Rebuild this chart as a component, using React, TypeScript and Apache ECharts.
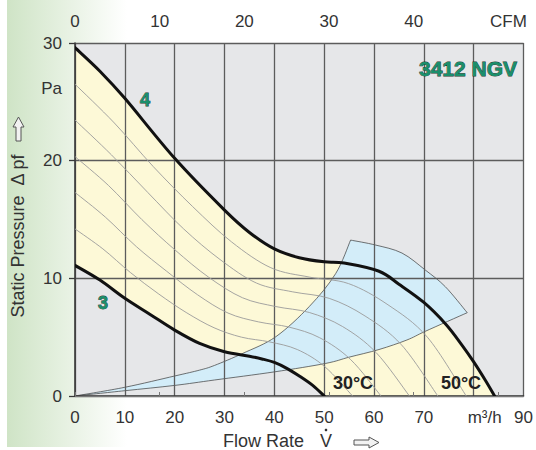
import React, { useEffect, useRef } from "react";
import * as echarts from "echarts";

// ---- axis ticks ----
const flowTicks = [0, 10, 20, 30, 40, 50, 60, 70, 80, 90];
const cfmTicks = [0, 10, 20, 30, 40, 50];
const pressureTicks = [0, 10, 20, 30];
const M3H_PER_CFM = 1.699;

// ---- characteristic curve "4" (upper) ----
const curve4Flow = [0, 5, 10, 20, 30, 35, 40, 45, 50, 54, 61, 65, 70, 74.4, 77.6, 80, 82.3, 84.2];
const curve4Pres = [29.6, 27.6, 25.3, 20.2, 15.8, 13.9, 12.5, 11.75, 11.4, 11.3, 10.6, 9.5, 7.95, 6.1, 4.35, 2.9, 1.36, 0];

// ---- characteristic curve "3" (lower) ----
const curve3Flow = [0, 5, 10, 15, 20, 25, 30, 35, 37.5, 40, 42.5, 45, 47.7, 50];
const curve3Pres = [11.1, 9.85, 8.3, 6.95, 5.6, 4.47, 3.76, 3.38, 3.15, 2.85, 2.35, 1.7, 0.9, 0];

// ---- intermediate thin curves ----
const thin1Flow = [0, 5.6, 11.1, 16.7, 22.3, 27.9, 33.4, 39, 44.6, 50.1, 55.7];
const thin1Pres = [14.2, 12.5, 10.5, 8.7, 7.1, 5.8, 5.0, 4.6, 3.95, 2.5, 0];
const thin2Flow = [0, 6.1, 12.3, 18.4, 24.6, 30.7, 36.8, 43, 49.1, 55.3, 61.4];
const thin2Pres = [17.3, 15.2, 12.7, 10.6, 8.6, 7.05, 6.3, 5.85, 4.95, 3.1, 0];
const thin3Flow = [0, 6.7, 13.4, 20.1, 26.8, 33.6, 40.3, 47, 53.7, 60.4, 67.1];
const thin3Pres = [20.35, 17.9, 15.0, 12.4, 10.1, 8.35, 7.6, 7.1, 5.9, 3.7, 0];
const thin4Flow = [0, 7.3, 14.6, 21.8, 29.1, 36.4, 43.7, 51, 58.2, 65.5, 72.8];
const thin4Pres = [23.45, 20.5, 17.3, 14.2, 11.6, 9.6, 8.85, 8.3, 6.8, 4.35, 0];
const thin5Flow = [0, 7.9, 15.7, 23.6, 31.4, 39.3, 47.1, 54.9, 62.8, 70.7, 78.5];
const thin5Pres = [26.5, 23.2, 19.5, 16.1, 13.1, 10.9, 10.1, 9.55, 7.75, 5.0, 0];

// ---- blue operating band ----
const bandUpperFlow = [0, 10, 20, 25, 28, 33.7, 40.3, 47, 52.3, 55.3];
const bandUpperPres = [0, 0.74, 1.7, 2.2, 2.6, 3.63, 5.04, 7.6, 10.4, 13.25];
const bandArcFlow = [55.3, 60.3, 65.6, 70.3, 74.3, 78.7];
const bandArcPres = [13.25, 12.83, 12.15, 10.7, 9.29, 7.08];
const bandLowerFlow = [0, 10, 20, 28, 40, 50.3, 55, 61, 66.6, 70.3, 78.7];
const bandLowerPres = [0, 0.45, 0.9, 1.36, 2.05, 2.77, 3.3, 3.95, 4.76, 5.5, 7.08];

const FONT = "'Liberation Sans', Arial, sans-serif";

// Catmull-Rom spline through pixel points, as cubic bezier commands (current point = pts[0])
function splineCmds(pts: number[][]): string {
  let d = "";
  for (let i = 0; i < pts.length - 1; i++) {
    const p0 = pts[i - 1] || pts[i];
    const p1 = pts[i];
    const p2 = pts[i + 1];
    const p3 = pts[i + 2] || p2;
    const c1x = p1[0] + (p2[0] - p0[0]) / 6;
    const c1y = p1[1] + (p2[1] - p0[1]) / 6;
    const c2x = p2[0] - (p3[0] - p1[0]) / 6;
    const c2y = p2[1] - (p3[1] - p1[1]) / 6;
    d += ` C${c1x},${c1y} ${c2x},${c2y} ${p2[0]},${p2[1]}`;
  }
  return d;
}

const toPx = (api: any, q: number[], p: number[]) => q.map((v, i) => api.coord([v, p[i]]));

function pathSeries(build: (api: any) => string, style: any, z: number) {
  return {
    type: "custom",
    silent: true,
    z,
    clip: true,
    data: [[0, 0]],
    encode: { x: 0, y: 1 },
    renderItem: (_params: any, api: any) => ({
      type: "path",
      shape: { pathData: build(api) },
      style,
    }),
  };
}

function curveSeries(q: number[], p: number[], color: string, width: number, z: number) {
  return pathSeries(
    (api) => {
      const pts = toPx(api, q, p);
      return `M${pts[0][0]},${pts[0][1]}` + splineCmds(pts);
    },
    { fill: "none", stroke: color, lineWidth: width, lineJoin: "round", lineCap: "round" },
    z
  );
}

export default function App() {
  const ref = useRef<HTMLDivElement>(null);

  useEffect(() => {
    if (!ref.current) return;
    const chart = echarts.init(ref.current, null, { renderer: "svg" });

    const labelText = { fontSize: 17, color: "#333", fontFamily: FONT };
    const greenLabel = {
      fontSize: 18,
      fontWeight: "bold",
      fill: "#1a8f6b",
      stroke: "#1f3a30",
      lineWidth: 0.8,
      fontFamily: FONT,
      align: "center",
      verticalAlign: "middle",
    };

    const option: any = {
      animation: false,
      grid: {
        left: 75,
        right: 10,
        top: 43,
        bottom: 54,
        show: true,
        backgroundColor: "#e6e7e9",
        borderWidth: 0,
      },
      xAxis: [
        {
          type: "value",
          position: "bottom",
          min: flowTicks[0],
          max: flowTicks[flowTicks.length - 1],
          interval: 10,
          z: 3,
          axisLine: { show: true, onZero: false, lineStyle: { color: "#3a3a3a", width: 1.6 } },
          axisTick: { show: false },
          axisLabel: {
            ...labelText,
            margin: 13,
            showMaxLabel: true,
            showMinLabel: true,
            formatter: (v: number) => (v === 80 ? "{u|m³/h}" : String(v)),
            rich: { u: { ...labelText, padding: [0, 0, 0, 22] } },
          },
          splitLine: { show: true, lineStyle: { color: "#5c5c5c", width: 1.3 } },
        },
        {
          type: "value",
          position: "top",
          offset: 10,
          min: 0,
          max: flowTicks[flowTicks.length - 1] / M3H_PER_CFM,
          interval: 10,
          z: 3,
          axisLine: { show: true, lineStyle: { color: "#777", width: 1 } },
          axisTick: {
            show: true,
            length: 4,
            inside: false,
            customValues: cfmTicks,
            lineStyle: { color: "#777", width: 1 },
          },
          axisLabel: {
            ...labelText,
            margin: 3,
            customValues: cfmTicks,
            formatter: (v: number) => (v === 50 ? "{u|CFM}" : cfmTicks.indexOf(v) >= 0 ? String(v) : ""),
            rich: { u: { ...labelText, padding: [0, 0, 0, 20] } },
          },
          splitLine: { show: false },
        },
      ],
      yAxis: {
        type: "value",
        min: pressureTicks[0],
        max: pressureTicks[pressureTicks.length - 1],
        interval: 10,
        z: 3,
        axisLine: { show: true, onZero: false, lineStyle: { color: "#3a3a3a", width: 1.6 } },
        axisTick: { show: true, length: 6, inside: false, lineStyle: { color: "#3a3a3a", width: 1.3 } },
        axisLabel: { ...labelText, margin: 13 },
        splitLine: { show: true, lineStyle: { color: "#5c5c5c", width: 1.3 } },
      },
      series: [
        // yellow operating range between curve 4 and curve 3
        pathSeries(
          (api) => {
            const top = toPx(api, curve4Flow, curve4Pres);
            const bot = toPx(api, curve3Flow, curve3Pres).reverse();
            return (
              `M${top[0][0]},${top[0][1]}` +
              splineCmds(top) +
              ` L${bot[0][0]},${bot[0][1]}` +
              splineCmds(bot) +
              " Z"
            );
          },
          { fill: "#fdf9d7", stroke: "none" },
          1
        ),
        // blue band
        pathSeries(
          (api) => {
            const up = toPx(api, bandUpperFlow, bandUpperPres);
            const arc = toPx(api, bandArcFlow, bandArcPres);
            const low = toPx(api, bandLowerFlow, bandLowerPres).reverse();
            return `M${up[0][0]},${up[0][1]}` + splineCmds(up) + splineCmds(arc) + splineCmds(low) + " Z";
          },
          { fill: "#d3edf9", stroke: "#3a3a3a", lineWidth: 0.7 },
          2
        ),
        curveSeries(thin1Flow, thin1Pres, "#9b9b9b", 0.9, 4),
        curveSeries(thin2Flow, thin2Pres, "#9b9b9b", 0.9, 4),
        curveSeries(thin3Flow, thin3Pres, "#9b9b9b", 0.9, 4),
        curveSeries(thin4Flow, thin4Pres, "#9b9b9b", 0.9, 4),
        curveSeries(thin5Flow, thin5Pres, "#9b9b9b", 0.9, 4),
        curveSeries(curve3Flow, curve3Pres, "#111", 3, 5),
        curveSeries(curve4Flow, curve4Pres, "#111", 3, 5),
      ],
      graphic: [
        {
          type: "rect",
          z: -10,
          silent: true,
          shape: { x: 7, y: 0, width: 120, height: 447 },
          style: {
            fill: new echarts.graphic.LinearGradient(0, 0, 1, 0, [
              { offset: 0, color: "#cfe4c6" },
              { offset: 1, color: "#ffffff" },
            ]),
          },
        },
        {
          type: "text",
          z: 100,
          x: 62,
          y: 88,
          style: { text: "Pa", fontSize: 17, fill: "#333", fontFamily: FONT, align: "right", verticalAlign: "middle" },
        },
        { type: "text", z: 100, x: 468, y: 68, style: { ...greenLabel, text: "3412 NGV", fontSize: 21 } },
        { type: "text", z: 100, x: 145, y: 100, style: { ...greenLabel, text: "4" } },
        { type: "text", z: 100, x: 103, y: 303, style: { ...greenLabel, text: "3" } },
        {
          type: "text",
          z: 100,
          x: 353,
          y: 383,
          style: { text: "30°C", fontSize: 18, fontWeight: "bold", fill: "#222", fontFamily: FONT, align: "center", verticalAlign: "middle" },
        },
        {
          type: "text",
          z: 100,
          x: 461,
          y: 383,
          style: { text: "50°C", fontSize: 18, fontWeight: "bold", fill: "#222", fontFamily: FONT, align: "center", verticalAlign: "middle" },
        },
        {
          type: "text",
          z: 100,
          x: 223,
          y: 441,
          style: { text: "Flow Rate", fontSize: 18, fill: "#333", fontFamily: FONT, align: "left", verticalAlign: "middle" },
        },
        {
          type: "text",
          z: 100,
          x: 326,
          y: 441,
          style: { text: "V", fontSize: 18, fill: "#333", fontFamily: FONT, align: "center", verticalAlign: "middle" },
        },
        { type: "circle", z: 100, shape: { cx: 326, cy: 430, r: 1.3 }, style: { fill: "#333" } },
        {
          type: "polygon",
          z: 100,
          shape: {
            points: [
              [354, 440], [369, 440], [369, 437], [379, 442.5], [369, 448], [369, 445], [354, 445],
            ],
          },
          style: { fill: "#f2f2f2", stroke: "#555", lineWidth: 1 },
        },
        {
          type: "text",
          z: 100,
          x: 18,
          y: 236,
          rotation: Math.PI / 2,
          style: { text: "Static Pressure  Δ pf", fontSize: 18, fill: "#333", fontFamily: FONT, align: "center", verticalAlign: "middle" },
        },
        {
          type: "polygon",
          z: 100,
          shape: {
            points: [
              [16, 141], [16, 127], [13, 127], [18.5, 117], [24, 127], [21, 127], [21, 141],
            ],
          },
          style: { fill: "#f2f2f2", stroke: "#555", lineWidth: 1 },
        },
      ],
    };

    chart.setOption(option);
    return () => chart.dispose();
  }, []);

  return (
    <div
      ref={ref}
      style={{ position: "fixed", left: 0, top: 0, width: 536, height: 450, background: "#fff" }}
    />
  );
}
